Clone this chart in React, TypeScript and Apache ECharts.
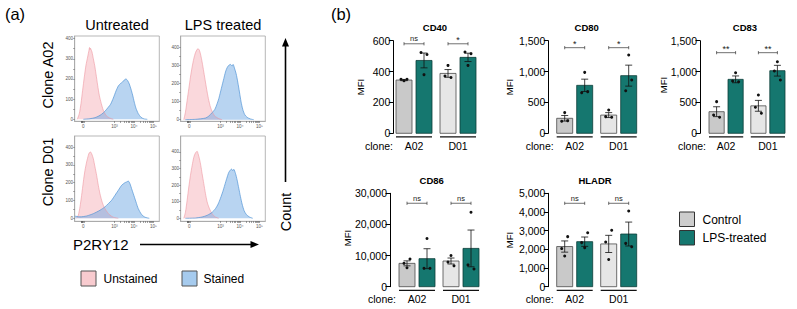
import React, { useEffect, useRef } from "react";
import * as echarts from "echarts";

const FONT = '"Liberation Sans", Arial, Helvetica, sans-serif';

// ---------- (a) P2RY12 flow histograms: [display position, cell count] ----------
// display scale: 0 sits at 1.4, 10^3 at 3, 10^4 at 4, 10^5 at 5
const histTickValues = [1.4, 3, 4, 5];
const histTickLabels = ["0", "10³", "10⁴", "10⁵"];
const countTicks = [0, 100, 200, 300, 400];

const a02UntreatedUnstained = [
  [1.094, 0], [1.196, 28], [1.282, 78], [1.367, 144], [1.453, 210], [1.538, 268],
  [1.624, 309], [1.692, 342], [1.72, 356], [1.744, 346], [1.77, 352], [1.795, 347],
  [1.846, 334], [1.915, 301], [1.983, 268], [2.051, 226], [2.137, 169], [2.222, 119],
  [2.325, 78], [2.427, 45], [2.564, 20], [2.735, 7], [2.94, 0],
];
const a02UntreatedStained = [
  [1.402, 0], [1.744, 3], [2.0, 8], [2.171, 15], [2.342, 25], [2.513, 40], [2.684, 60],
  [2.803, 75], [2.94, 105], [3.077, 140], [3.197, 165], [3.316, 178], [3.419, 185],
  [3.504, 195], [3.59, 200], [3.675, 192], [3.761, 175], [3.846, 150], [3.932, 120],
  [4.017, 85], [4.103, 55], [4.222, 28], [4.359, 10], [4.513, 2], [4.684, 0],
];
const a02LpsUnstained = [
  [1.119, 0], [1.205, 43], [1.29, 107], [1.376, 172], [1.461, 237], [1.547, 293],
  [1.632, 339], [1.717, 372], [1.803, 391], [1.854, 394], [1.923, 385], [1.991, 357],
  [2.059, 320], [2.145, 265], [2.23, 209], [2.316, 154], [2.401, 107], [2.487, 70],
  [2.572, 46], [2.709, 20], [2.914, 6], [3.085, 0],
];
const a02LpsStained = [
  [1.2, 0], [1.717, 2], [2.23, 9], [2.401, 20], [2.572, 39], [2.709, 57], [2.829, 89],
  [2.914, 117], [3.0, 154], [3.085, 191], [3.171, 228], [3.256, 265], [3.341, 289],
  [3.427, 302], [3.512, 307], [3.598, 298], [3.649, 307], [3.717, 287], [3.803, 256],
  [3.888, 209], [3.974, 154], [4.059, 98], [4.145, 57], [4.247, 28], [4.367, 13],
  [4.538, 4], [4.709, 0],
];
const d01UntreatedUnstained = [
  [1.06, 0], [1.145, 17], [1.231, 64], [1.316, 129], [1.402, 204], [1.487, 269],
  [1.573, 316], [1.658, 353], [1.709, 368], [1.778, 372], [1.829, 363], [1.915, 335],
  [2.0, 288], [2.085, 241], [2.171, 185], [2.256, 138], [2.342, 101], [2.427, 73],
  [2.564, 45], [2.735, 21], [2.94, 6], [3.197, 0],
];
const d01UntreatedStained = [
  [0.98, 12], [1.231, 8], [1.573, 13], [1.915, 26], [2.256, 45], [2.513, 64],
  [2.684, 82], [2.855, 101], [3.026, 129], [3.197, 157], [3.367, 185], [3.538, 200],
  [3.624, 204], [3.709, 209], [3.795, 194], [3.88, 166], [3.966, 138], [4.103, 92],
  [4.222, 54], [4.393, 21], [4.564, 6], [4.786, 0],
];
const d01LpsUnstained = [
  [1.119, 0], [1.205, 38], [1.29, 109], [1.376, 189], [1.461, 259], [1.547, 318],
  [1.632, 368], [1.717, 394], [1.803, 404], [1.854, 388], [1.923, 358], [1.991, 318],
  [2.059, 268], [2.145, 209], [2.23, 149], [2.316, 99], [2.401, 68], [2.538, 34],
  [2.709, 10], [2.914, 0],
];
const d01LpsStained = [
  [1.2, 0], [1.717, 2], [2.059, 8], [2.316, 18], [2.572, 36], [2.743, 58], [2.88, 86],
  [3.0, 121], [3.119, 161], [3.222, 201], [3.324, 241], [3.427, 277], [3.512, 291],
  [3.564, 297], [3.632, 287], [3.683, 295], [3.769, 271], [3.854, 231], [3.94, 181],
  [4.025, 131], [4.111, 86], [4.213, 46], [4.333, 22], [4.487, 8], [4.658, 0],
];

// ---------- (b) MFI per marker; bar order: A02 control, A02 LPS, D01 control, D01 LPS ----------
const clones = ["A02", "D01"];
const groups = ["Control", "LPS-treated"];

const cd40Mean = [345, 472, 388, 492];
const cd40Sem = [4, 48, 25, 27];
const cd40Points = [[350, 341, 350], [524, 380, 511], [371, 440, 362], [527, 440, 516]];
const cd40Sig = ["ns", "*"];

const cd80Mean = [243, 777, 295, 934];
const cd80Sem = [45, 100, 40, 170];
const cd80Points = [[194, 335, 205], [658, 987, 675], [270, 378, 259], [690, 1268, 863]];
const cd80Sig = ["*", "*"];

const cd83Mean = [350, 874, 445, 1014];
const cd83Sem = [80, 55, 88, 87];
const cd83Points = [[297, 513, 259], [847, 982, 836], [421, 620, 324], [1009, 1160, 863]];
const cd83Sig = ["**", "**"];

const cd86Mean = [7500, 9000, 8250, 12300];
const cd86Sem = [800, 3200, 960, 5900];
const cd86Points = [[7500, 6100, 8900], [5900, 15500, 5900], [7900, 10000, 6700], [7000, 23900, 5700]];
const cd86Sig = ["ns", "ns"];

const hladrMean = [2150, 2410, 2290, 2820];
const hladrSem = [300, 250, 460, 640];
const hladrPoints = [[2040, 1640, 2680], [2360, 2090, 2890], [2390, 1460, 3020], [2320, 4050, 2140]];
const hladrSig = ["ns", "ns"];

// ---------- styling / layout ----------
const BAR_CENTERS = [0, 1, 2.2, 3.2];
const BAR_W = 0.8;
const DOT_JITTER = [-3, 0, 3];
const BAR_FILL = ["#c9c9c9", "#15776f", "#e6e6e6", "#15776f"];
const BAR_STROKE = ["#4a4a4a", "#0d3d39", "#4a4a4a", "#0d3d39"];
const PINK_LINE = "rgba(238,150,160,0.85)";
const PINK_FILL = "rgba(242,160,170,0.58)";
const BLUE_LINE = "rgba(75,145,212,0.95)";
const BLUE_FILL = "rgba(105,165,225,0.68)";

const histPanels = [
  { unstained: a02UntreatedUnstained, stained: a02UntreatedStained, left: 74.7, top: 36, yMin: -10, yMax: 413 },
  { unstained: a02LpsUnstained, stained: a02LpsStained, left: 180.7, top: 36, yMin: -9, yMax: 465 },
  { unstained: d01UntreatedUnstained, stained: d01UntreatedStained, left: 74.7, top: 136, yMin: -17, yMax: 462 },
  { unstained: d01LpsUnstained, stained: d01LpsStained, left: 180.7, top: 136, yMin: -18, yMax: 496 },
];
const HIST_W = 84.6;
const HIST_H = 85.3;

const barPanels = [
  { title: "CD40", mean: cd40Mean, sem: cd40Sem, points: cd40Points, sig: cd40Sig, max: 600, step: 200, bracketY: 580,
    axisX: 393.3, firstBar: 396, unit: 20, top: 40.7, zeroY: 133.3, titleX: 435, titleY: 27, mfiX: 360, mfiY: 87 },
  { title: "CD80", mean: cd80Mean, sem: cd80Sem, points: cd80Points, sig: cd80Sig, max: 1500, step: 500, bracketY: 1387,
    axisX: 548.3, firstBar: 556.7, unit: 20, top: 40.7, zeroY: 133.3, titleX: 586.7, titleY: 27, mfiX: 509.5, mfiY: 87 },
  { title: "CD83", mean: cd83Mean, sem: cd83Sem, points: cd83Points, sig: cd83Sig, max: 1500, step: 500, bracketY: 1306,
    axisX: 700, firstBar: 709, unit: 19, top: 40.7, zeroY: 133.3, titleX: 745, titleY: 27, mfiX: 663.5, mfiY: 85 },
  { title: "CD86", mean: cd86Mean, sem: cd86Sem, points: cd86Points, sig: cd86Sig, max: 30000, step: 10000, bracketY: 26800,
    axisX: 390, firstBar: 399, unit: 20, top: 193.3, zeroY: 286.7, titleX: 431.7, titleY: 180, mfiX: 347, mfiY: 238 },
  { title: "HLADR", mean: hladrMean, sem: hladrSem, points: hladrPoints, sig: hladrSig, max: 5000, step: 1000, bracketY: 4465,
    axisX: 548.3, firstBar: 556.7, unit: 20, top: 193.3, zeroY: 286.7, titleX: 595, titleY: 180, mfiX: 509.5, mfiY: 240 },
];

function text(t: string, x: number, y: number, size: number, extra: any = {}) {
  return {
    type: "text",
    x,
    y,
    rotation: extra.rotation || 0,
    silent: true,
    style: {
      text: t,
      fontSize: size,
      fontFamily: FONT,
      fontWeight: extra.weight || "normal",
      fill: extra.color || "#000",
      align: extra.align || "center",
      verticalAlign: "middle",
    },
  };
}

function buildOption() {
  const grids: any[] = [];
  const xAxes: any[] = [];
  const yAxes: any[] = [];
  const series: any[] = [];
  const graphic: any[] = [];

  // ----- histograms -----
  histPanels.forEach((p, i) => {
    grids.push({
      left: p.left, top: p.top, width: HIST_W, height: HIST_H,
      show: true, borderColor: "#a5a5a5", borderWidth: 0.8, backgroundColor: "#fff",
      outerBoundsMode: "none", containLabel: false,
    });
    xAxes.push({
      type: "value", gridIndex: i, min: 0.96, max: 5.3,
      axisLine: { show: true, onZero: false, lineStyle: { color: "#a5a5a5", width: 0.8 } },
      splitLine: { show: false },
      axisTick: {
        show: true, length: 1.6, lineStyle: { color: "#333", width: 0.5 },
        customValues: [1.28, 1.31, 1.34, 1.37, 1.4, 1.43, 3, 3.301, 3.477, 3.602, 3.699, 3.778, 3.845,
          3.903, 3.954, 4, 4.301, 4.477, 4.602, 4.699, 4.778, 4.845, 4.903, 4.954, 5],
      },
      axisLabel: {
        customValues: histTickValues,
        formatter: (v: number) => {
          const k = histTickValues.findIndex((t) => Math.abs(t - v) < 1e-6);
          return k >= 0 ? histTickLabels[k] : "";
        },
        fontSize: 4.6, color: "#555", margin: 2.5, fontFamily: FONT,
      },
    });
    yAxes.push({
      type: "value", gridIndex: i, min: p.yMin, max: p.yMax,
      axisLine: { show: true, onZero: false, lineStyle: { color: "#a5a5a5", width: 0.8 } },
      splitLine: { show: false },
      axisTick: {
        show: true, length: 1.6, lineStyle: { color: "#555", width: 0.5 },
        customValues: [0, 50, 100, 150, 200, 250, 300, 350, 400],
      },
      axisLabel: { customValues: countTicks, fontSize: 4.6, color: "#555", margin: 1.6, fontFamily: FONT },
    });
    [
      { data: p.unstained, line: PINK_LINE, fill: PINK_FILL },
      { data: p.stained, line: BLUE_LINE, fill: BLUE_FILL },
    ].forEach((s) => {
      series.push({
        type: "line", xAxisIndex: i, yAxisIndex: i, data: s.data, symbol: "none", smooth: 0.25,
        lineStyle: { color: s.line, width: 0.7 }, areaStyle: { color: s.fill, origin: 0 },
        silent: true,
      });
    });
  });

  // ----- bar charts -----
  barPanels.forEach((p, j) => {
    const gi = histPanels.length + j;
    const xmin = -BAR_W / 2 - (p.firstBar - p.axisX) / p.unit;
    const xmax = BAR_CENTERS[3] + BAR_W / 2 + 0.3;
    grids.push({
      left: p.axisX, top: p.top, width: (xmax - xmin) * p.unit, height: p.zeroY - p.top,
      show: false, outerBoundsMode: "none", containLabel: false,
    });
    xAxes.push({ type: "value", gridIndex: gi, min: xmin, max: xmax, show: false });
    yAxes.push({
      type: "value", gridIndex: gi, min: 0, max: p.max, interval: p.step,
      axisLine: { show: true, onZero: false, lineStyle: { color: "#000", width: 1 } },
      axisTick: { show: true, length: 4.5, lineStyle: { color: "#000", width: 1 } },
      splitLine: { show: false },
      axisLabel: {
        fontSize: 10.5, color: "#000", margin: 3, fontFamily: FONT,
        formatter: (v: number) => v.toLocaleString("en-US"),
      },
    });

    // bars, SEM whiskers and replicate dots
    series.push({
      type: "custom", xAxisIndex: gi, yAxisIndex: gi, clip: false, silent: true,
      data: p.mean.map((m, i) => [BAR_CENTERS[i], m, p.sem[i], ...p.points[i]]),
      renderItem: (params: any, api: any) => {
        const i = params.dataIndex;
        const xc = api.value(0);
        const mean = api.value(1);
        const sem = api.value(2);
        const [cx, ty] = api.coord([xc, mean]);
        const by = api.coord([xc, 0])[1];
        const w = api.size([BAR_W, 0])[0];
        const hi = api.coord([xc, mean + sem])[1];
        const lo = api.coord([xc, mean - sem])[1];
        const cap = 3.5;
        const ls = { stroke: "#111", lineWidth: 0.8 };
        const children: any[] = [
          { type: "rect", shape: { x: cx - w / 2, y: ty, width: w, height: by - ty },
            style: { fill: BAR_FILL[i], stroke: BAR_STROKE[i], lineWidth: 0.8 } },
          { type: "line", shape: { x1: cx, y1: hi, x2: cx, y2: lo }, style: ls },
          { type: "line", shape: { x1: cx - cap, y1: hi, x2: cx + cap, y2: hi }, style: ls },
          { type: "line", shape: { x1: cx - cap, y1: lo, x2: cx + cap, y2: lo }, style: ls },
        ];
        for (let k = 0; k < 3; k++) {
          const py = api.coord([xc, api.value(3 + k)])[1];
          children.push({ type: "circle", shape: { cx: cx + DOT_JITTER[k], cy: py, r: 1.5 }, style: { fill: "#111" } });
        }
        return { type: "group", children };
      },
    });

    // significance brackets
    series.push({
      type: "custom", xAxisIndex: gi, yAxisIndex: gi, clip: false, silent: true,
      data: [[BAR_CENTERS[0], BAR_CENTERS[1], p.bracketY], [BAR_CENTERS[2], BAR_CENTERS[3], p.bracketY]],
      renderItem: (params: any, api: any) => {
        const [x1, y] = api.coord([api.value(0), api.value(2)]);
        const x2 = api.coord([api.value(1), api.value(2)])[0];
        const ls = { stroke: "#333", lineWidth: 0.7 };
        const label = p.sig[params.dataIndex];
        return {
          type: "group",
          children: [
            { type: "line", shape: { x1, y1: y, x2, y2: y }, style: ls },
            { type: "line", shape: { x1, y1: y - 1.6, x2: x1, y2: y + 1.6 }, style: ls },
            { type: "line", shape: { x1: x2, y1: y - 1.6, x2, y2: y + 1.6 }, style: ls },
            { type: "text", x: (x1 + x2) / 2, y: label === "ns" ? y - 1.2 : y + 1.2,
              style: { text: label, fontSize: label === "ns" ? 7.5 : 9, fontFamily: FONT, fill: "#222",
                align: "center", verticalAlign: "bottom" } },
          ],
        };
      },
    });

    // clone grouping lines and labels
    series.push({
      type: "custom", xAxisIndex: gi, yAxisIndex: gi, clip: false, silent: true,
      data: [[BAR_CENTERS[0] - BAR_W / 2, BAR_CENTERS[1] + BAR_W / 2, 0], [BAR_CENTERS[2] - BAR_W / 2, BAR_CENTERS[3] + BAR_W / 2, 0]],
      renderItem: (params: any, api: any) => {
        const [x1, y0] = api.coord([api.value(0), 0]);
        const x2 = api.coord([api.value(1), 0])[0];
        const children: any[] = [
          { type: "line", shape: { x1, y1: y0 + 3.6, x2, y2: y0 + 3.6 }, style: { stroke: "#111", lineWidth: 1.2 } },
          { type: "text", x: (x1 + x2) / 2, y: y0 + 12.6,
            style: { text: clones[params.dataIndex], fontSize: 10.5, fontFamily: FONT, fill: "#000", align: "center", verticalAlign: "middle" } },
        ];
        if (params.dataIndex === 0) {
          children.push({ type: "text", x: x1 - 3, y: y0 + 12.6,
            style: { text: "clone:", fontSize: 10.5, fontFamily: FONT, fill: "#000", align: "right", verticalAlign: "middle" } });
        }
        return { type: "group", children };
      },
    });

    graphic.push(text(p.title, p.titleX, p.titleY, 9.5, { weight: "bold" }));
    graphic.push(text("MFI", p.mfiX, p.mfiY, 9.5, { rotation: Math.PI / 2 }));
  });

  // ----- panel (a) annotations -----
  graphic.push(text("(a)", 15, 14, 16.5));
  graphic.push(text("(b)", 341, 14, 16.5));
  graphic.push(text("Untreated", 117, 25, 14.5));
  graphic.push(text("LPS treated", 223, 25, 14.5));
  graphic.push(text("Clone A02", 48, 75, 14.5, { rotation: Math.PI / 2 }));
  graphic.push(text("Clone D01", 48, 172, 14.5, { rotation: Math.PI / 2 }));
  graphic.push(text("P2RY12", 73, 244.5, 15, { align: "left" }));
  graphic.push({ type: "line", silent: true, shape: { x1: 140, y1: 244.5, x2: 252, y2: 244.5 }, style: { stroke: "#000", lineWidth: 1.6 } });
  graphic.push({ type: "polygon", silent: true, shape: { points: [[259, 244.5], [250.5, 241], [250.5, 248]] }, style: { fill: "#000" } });
  graphic.push(text("Count", 285.5, 212, 14.5, { rotation: Math.PI / 2 }));
  graphic.push({ type: "line", silent: true, shape: { x1: 285.5, y1: 182, x2: 285.5, y2: 46 }, style: { stroke: "#000", lineWidth: 1.6 } });
  graphic.push({ type: "polygon", silent: true, shape: { points: [[285.5, 38], [282, 46.5], [289, 46.5]] }, style: { fill: "#000" } });

  // legend (a)
  graphic.push({ type: "rect", silent: true, shape: { x: 81, y: 271, width: 15, height: 15 }, style: { fill: "#f8cbcf", stroke: "#555", lineWidth: 1 } });
  graphic.push(text("Unstained", 103.5, 279, 12, { align: "left" }));
  graphic.push({ type: "rect", silent: true, shape: { x: 182, y: 271, width: 15, height: 15 }, style: { fill: "#a6cbee", stroke: "#555", lineWidth: 1 } });
  graphic.push(text("Stained", 203.5, 279, 12, { align: "left" }));

  // legend (b)
  graphic.push({ type: "rect", silent: true, shape: { x: 679.5, y: 212, width: 15, height: 14.5 }, style: { fill: "#cdcdcd", stroke: "#333", lineWidth: 1 } });
  graphic.push(text(groups[0], 702.5, 219.5, 12, { align: "left" }));
  graphic.push({ type: "rect", silent: true, shape: { x: 679.5, y: 230.5, width: 15, height: 14.5 }, style: { fill: "#15776f", stroke: "#333", lineWidth: 1 } });
  graphic.push(text(groups[1], 702.5, 238, 12, { align: "left" }));

  return {
    animation: false,
    backgroundColor: "#ffffff",
    textStyle: { fontFamily: FONT },
    grid: grids,
    xAxis: xAxes,
    yAxis: yAxes,
    series,
    graphic,
  };
}

export default function App() {
  const ref = useRef<HTMLDivElement>(null);
  useEffect(() => {
    if (!ref.current) return;
    const chart = echarts.init(ref.current, null, { renderer: "svg" });
    chart.setOption(buildOption() as any);
    return () => chart.dispose();
  }, []);
  return (
    <div
      ref={ref}
      style={{ position: "fixed", left: 0, top: 0, width: 797, height: 309, background: "#fff" }}
    />
  );
}
